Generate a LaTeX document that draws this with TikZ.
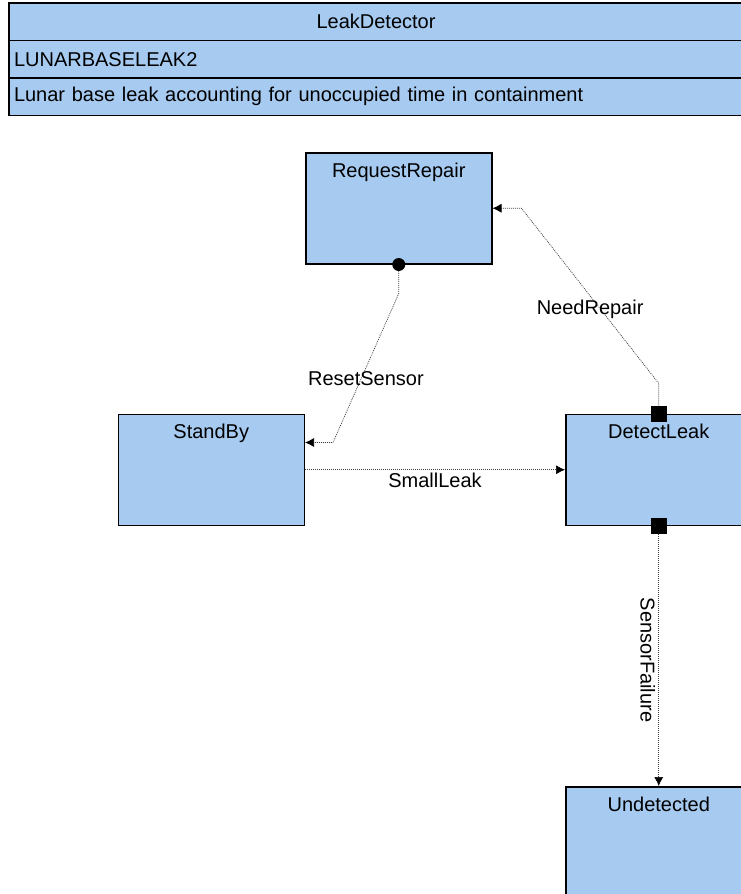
\documentclass[tikz,border=0pt]{standalone}
\usepackage{fontspec}
\setmainfont{Liberation Sans}
\usepackage{xcolor}
\usetikzlibrary{positioning,arrows.meta}
\definecolor{skyblue}{HTML}{A6CAF0}

\begin{document}
\begin{tikzpicture}[
  x=1pt,y=-1pt,
  font=\fontsize{20}{23}\selectfont,
  hrow/.style={rectangle,draw,fill=skyblue,line width=1.3pt,outer sep=0pt,inner xsep=5pt,text width=724pt,minimum height=37.5pt,align=left},
  statebox/.style={rectangle,draw,fill=skyblue,line width=1.5pt,minimum width=186pt,minimum height=111pt,label={[anchor=north,yshift=-7pt]north:#1}},
  sqport/.style={rectangle,fill=black,inner sep=0pt,minimum size=16pt},
  dotport/.style={circle,fill=black,inner sep=0pt,minimum size=13pt},
  trline/.style={draw=black!75,line width=0.7pt,dash pattern=on 1pt off 1pt},
  arrow/.style={trline,-{Latex[length=9pt,width=9pt,black]}}
]
\useasboundingbox (0,0) rectangle (741,894);
\clip (0,0) rectangle (741,894);
\node[hrow,align=center,anchor=north west] (title) at (9,3) {LeakDetector};
\node[hrow,below=0pt of title] (code) {LUNARBASELEAK2};
\node[hrow,below=0pt of code] (desc) {Lunar base leak accounting for unoccupied time in containment};
\node[statebox=RequestRepair,anchor=north west] (repair) at (305,152) {};
\node[statebox=StandBy,below left=149pt and 0pt of repair.south west] (standby) {};
\node[statebox=DetectLeak,right=260pt of standby] (detect) {};
\node[statebox=Undetected,below=260pt of detect] (undetected) {};
\node[dotport] (resetpin) at (repair.south) {};
\node[sqport] (needport) at (detect.north) {};
\node[sqport] (failport) at (detect.south) {};
\draw[arrow] (resetpin) -- ++(0,29) -- ([xshift=28pt,yshift=-29pt]standby.north east) node[midway,yshift=-11pt]{ResetSensor} -- ([yshift=-29pt]standby.north east);
\draw[arrow] (needport) -- ++(0,-30) -- ([xshift=29pt]repair.east) node[midway,yshift=-13pt]{NeedRepair} -- (repair.east);
\draw[arrow] (standby.east) -- node[below]{SmallLeak} (detect.west);
\draw[arrow] (failport) -- node[rotate=-90,anchor=north]{SensorFailure} (undetected.north);
\end{tikzpicture}
\end{document}
